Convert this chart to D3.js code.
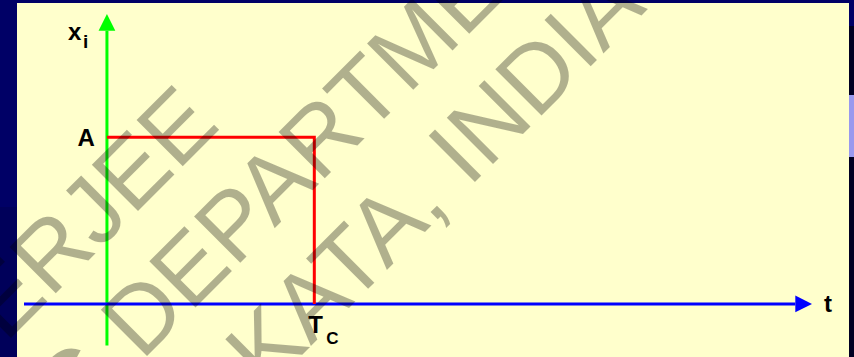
<!DOCTYPE html>
<html>
<head>
<meta charset="utf-8">
<script src="https://cdn.jsdelivr.net/npm/d3@7"></script>
<style>
  html, body { margin: 0; padding: 0; background: #000066; }
  svg { display: block; }
  text { font-family: Arial, "Liberation Sans", sans-serif; }
</style>
</head>
<body>
<svg id="chart"></svg>
<script>
// rectangular pulse of height A lasting from 0 to Tc
const pulseT = [0, 1, 1];
const pulseX = [1, 1, 0];
const tRange = [-0.4, 3.4];
const xRange = [-0.25, 1.74];
const levelLabels = ["A"];
const timeLabels = ["T", "C"];
const watermark = ["BANERJEE", "ENGINEERING DEPARTMENT", "KOLKATA, INDIA"];

const width = 854, height = 357;
const svg = d3.select("#chart").attr("width", width).attr("height", height);

// slide background
svg.append("rect").attr("width", width).attr("height", height).attr("fill", "#000066");
svg.append("rect").attr("x", 0).attr("y", 207).attr("width", 17).attr("height", 150).attr("fill", "#00005a");
svg.append("rect").attr("x", 849).attr("y", 26).attr("width", 5).attr("height", 331).attr("fill", "#000022");
svg.append("rect").attr("x", 849).attr("y", 95).attr("width", 5).attr("height", 62).attr("fill", "#9999ee");
svg.append("rect").attr("x", 17).attr("y", 3).attr("width", 832).attr("height", 354).attr("fill", "#ffffcc");

const x = d3.scaleLinear().domain(tRange).range([24, 812]);
const y = d3.scaleLinear().domain(xRange).range([345.6, 14]);
const head = 16.7, half = 8.4;

// green vertical axis (x_i)
svg.append("line")
  .attr("x1", x(0)).attr("x2", x(0))
  .attr("y1", y(xRange[0])).attr("y2", y(xRange[1]) + head)
  .attr("stroke", "#00ff00").attr("stroke-width", 3);
svg.append("path")
  .attr("d", `M${x(0)},${y(xRange[1])}L${x(0) - half},${y(xRange[1]) + head}L${x(0) + half},${y(xRange[1]) + head}Z`)
  .attr("fill", "#00ff00");

// blue time axis
svg.append("line")
  .attr("x1", x(tRange[0])).attr("x2", x(tRange[1]) - head)
  .attr("y1", y(0)).attr("y2", y(0))
  .attr("stroke", "#0000ff").attr("stroke-width", 3);
svg.append("path")
  .attr("d", `M${x(tRange[1])},${y(0)}L${x(tRange[1]) - head},${y(0) - half}L${x(tRange[1]) - head},${y(0) + half}Z`)
  .attr("fill", "#0000ff");

// the pulse
const line = d3.line().x((d, i) => x(pulseT[i])).y((d, i) => y(pulseX[i]));
svg.append("path")
  .datum(pulseT)
  .attr("d", line)
  .attr("fill", "none")
  .attr("stroke", "#ff0000")
  .attr("stroke-width", 3);

// labels
const lab = svg.append("g").attr("font-weight", "bold").attr("fill", "#000");
const xi = lab.append("text").attr("x", x(0) - 39).attr("y", 40).attr("font-size", 24);
xi.append("tspan").text("x");
xi.append("tspan").attr("x", x(0) - 24).attr("y", 48).attr("font-size", 19).text("i");

lab.append("text").attr("x", x(0) - 12).attr("y", y(1) + 9)
  .attr("text-anchor", "end").attr("font-size", 24).text(levelLabels[0]);

const tc = lab.append("text").attr("x", x(1) - 6).attr("y", y(0) + 29).attr("font-size", 24);
tc.append("tspan").text(timeLabels[0]);
tc.append("tspan").attr("x", x(1) + 12).attr("y", y(0) + 40).attr("font-size", 17).text(timeLabels[1]);

lab.append("text").attr("x", x(tRange[1]) + 12).attr("y", y(0) + 8)
  .attr("font-size", 24).text("t");

// watermark on top
const wmEnds = [[222, 127], [598, -95], [648, 9]];
svg.append("g")
  .attr("fill", "#000").attr("fill-opacity", 0.31)
  .attr("font-size", 95)
  .selectAll("text")
  .data(watermark)
  .join("text")
  .attr("text-anchor", "end")
  .attr("transform", (d, i) => `translate(${wmEnds[i][0]},${wmEnds[i][1]}) rotate(-45)`)
  .text(d => d);
</script>
</body>
</html>
